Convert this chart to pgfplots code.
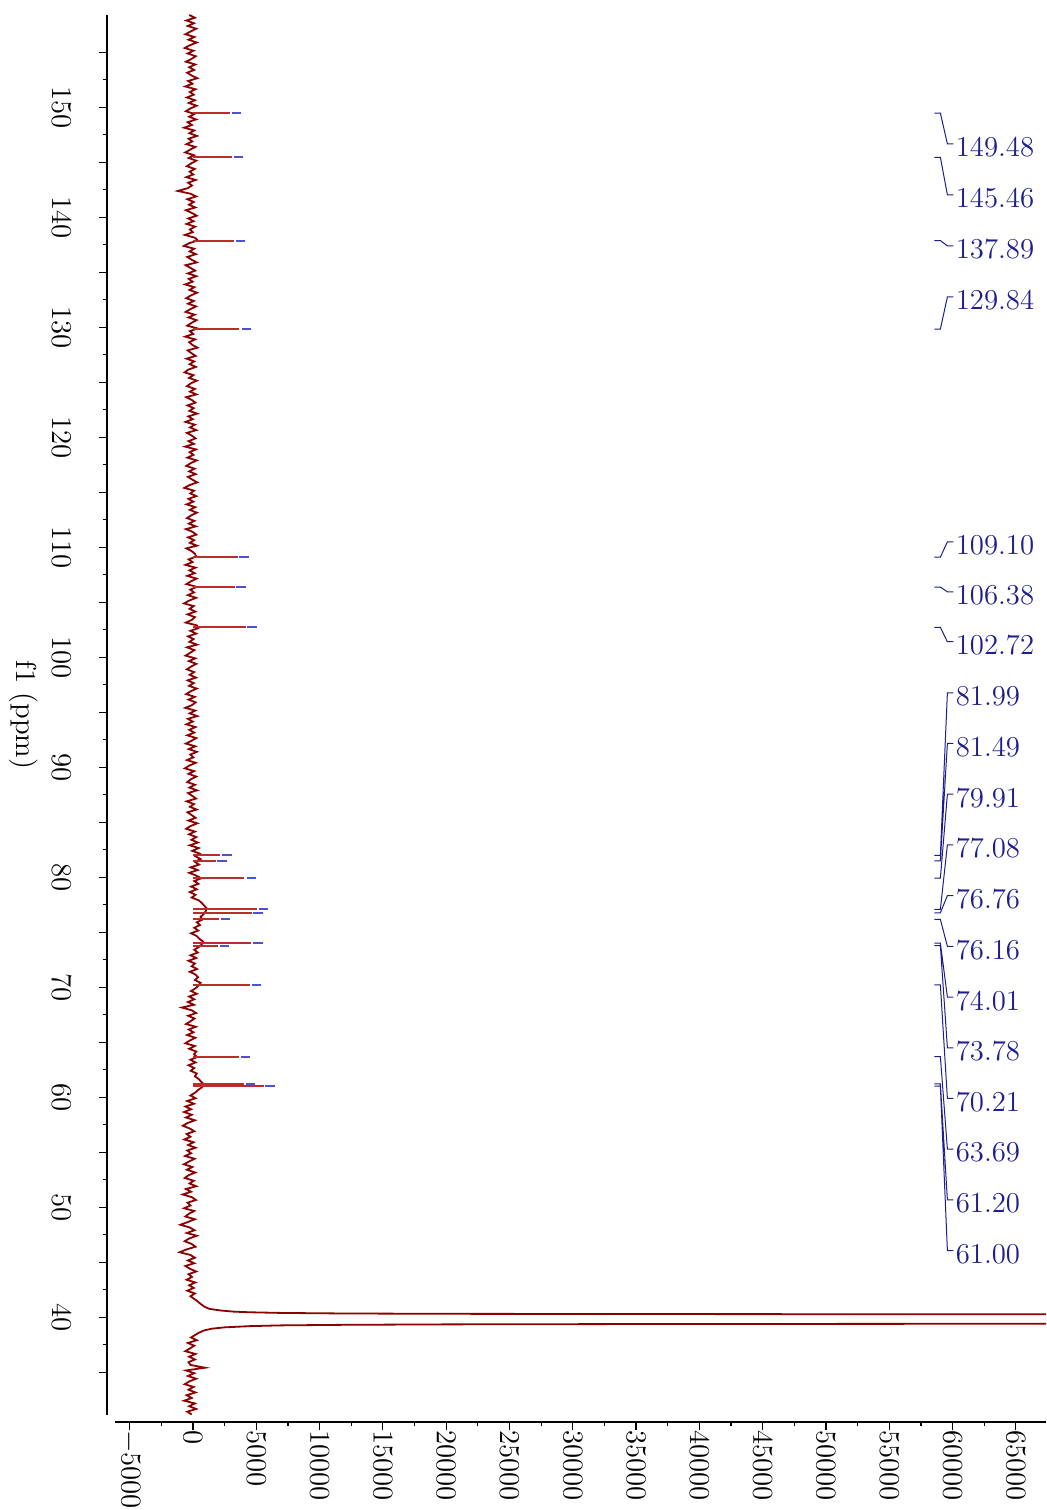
\documentclass[border=0pt]{standalone}
\usepackage{pgfplots}
\pgfplotsset{compat=1.18}
\usetikzlibrary{calc}
\definecolor{spec}{RGB}{139,0,0}
\definecolor{peakred}{RGB}{185,45,45}
\definecolor{dashblue}{RGB}{80,80,205}
\definecolor{labblue}{RGB}{30,30,140}
\begin{document}
\begin{tikzpicture}
\begin{axis}[
 name=ax, scale only axis, width=465.5pt, height=700pt,
 xmin=-6160, xmax=67380, ymin=31.1, ymax=158.4,
 axis lines=left, axis line style={-, line width=0.6pt},
 axis x line shift=3.5pt, axis y line shift=4pt,
 tick align=outside, major tick length=4pt, minor tick length=2pt,
 every tick/.style={black, line width=0.6pt},
 xtick={-5000,0,...,65000}, minor x tick num=1,
 ytick={35,40,...,155},
 yticklabels={{},40,{},50,{},60,{},70,{},80,{},90,{},100,{},110,{},120,{},130,{},140,{},150,{}},
 minor y tick num=1,
 scaled x ticks=false,
 /pgf/number format/1000 sep={},
 xticklabel style={rotate=-90, anchor=west, font=\Large},
 yticklabel style={rotate=-90, anchor=north, font=\Large},
 xticklabel shift=-3.5pt,
 yticklabel shift=10pt,
 ylabel={f1 (ppm)},
 every axis y label/.style={at={(ticklabel cs:0.5)}, rotate=-90, anchor=north, font=\Large},
 unbounded coords=jump,
]
% spectrum trace
\addplot[spec, line width=0.9pt] coordinates {
(-300,158.40) (150,158.15) (-520,157.90) (80,157.65) (-410,157.40) (260,157.15) (-180,156.90) (-600,156.65) (110,156.40) (-350,156.15)
(300,155.90) (-240,155.65) (-650,155.40) (40,155.15) (-420,154.90) (220,154.65) (-130,154.40) (-550,154.15) (180,153.90) (-300,153.65)
(90,153.40) (-460,153.15) (-120,152.90) (340,152.65) (-380,152.40) (-40,152.15) (-610,151.90) (200,151.65) (-250,151.40) (60,151.15)
(-480,150.90) (150,150.65) (-330,150.40) (280,150.15) (-200,149.90) (-560,149.65) (120,149.40) (-300,149.15) (240,148.90) (-420,148.65)
(-90,148.40) (-700,148.15) (100,147.90) (-280,147.65) (310,147.40) (-350,147.15) (-60,146.90) (-520,146.65) (190,146.40) (-230,146.15)
(-610,145.90) (80,145.65) (-340,145.40) (260,145.15) (-150,144.90) (-480,144.65) (140,144.40) (-260,144.15) (20,143.90) (-530,143.65)
(210,143.40) (-380,143.15) (-80,142.90) (-420,142.65) (-1200,142.40) (-200,142.15) (250,141.90) (-450,141.65) (60,141.40) (-310,141.15)
(180,140.90) (-560,140.65) (-90,140.40) (290,140.15) (-370,139.90) (40,139.65) (-500,139.40) (160,139.15) (-240,138.90) (-20,138.65)
(-640,138.40) (150,138.15) (380,137.90) (-300,137.65) (-720,137.40) (90,137.15) (-260,136.90) (230,136.65) (-450,136.40) (-110,136.15)
(300,135.90) (-580,135.65) (-190,135.40) (170,135.15) (-400,134.90) (260,134.65) (-330,134.40) (-30,134.15) (-620,133.90) (110,133.65)
(-280,133.40) (320,133.15) (-160,132.90) (-530,132.65) (60,132.40) (-390,132.15) (240,131.90) (-210,131.65) (-580,131.40) (130,131.15)
(-350,130.90) (280,130.65) (-120,130.40) (-460,130.15) (350,129.90) (-240,129.65) (20,129.40) (-610,129.15) (170,128.90) (-300,128.65)
(-50,128.40) (360,128.15) (-420,127.90) (-130,127.65) (210,127.40) (-500,127.15) (90,126.90) (-260,126.65) (230,126.40) (-380,126.15)
(-660,125.90) (40,125.65) (-310,125.40) (300,125.15) (-180,124.90) (-470,124.65) (150,124.40) (-240,124.15) (270,123.90) (-540,123.65)
(-100,123.40) (190,123.15) (-430,122.90) (60,122.65) (-280,122.40) (330,122.15) (-370,121.90) (-20,121.65) (-590,121.40) (140,121.15)
(-230,120.90) (260,120.65) (-480,120.40) (-90,120.15) (200,119.90) (-350,119.65) (70,119.40) (-620,119.15) (230,118.90) (-260,118.65)
(40,118.40) (-440,118.15) (290,117.90) (-170,117.65) (-530,117.40) (120,117.15) (-300,116.90) (210,116.65) (-400,116.40) (-60,116.15)
(340,115.90) (-290,115.65) (-680,115.40) (80,115.15) (-210,114.90) (250,114.65) (-360,114.40) (30,114.15) (-500,113.90) (180,113.65)
(-250,113.40) (300,113.15) (-140,112.90) (-470,112.65) (110,112.40) (-330,112.15) (220,111.90) (-560,111.65) (-30,111.40) (260,111.15)
(-390,110.90) (90,110.65) (-250,110.40) (310,110.15) (-520,109.90) (-100,109.65) (160,109.40) (250,109.15) (-340,108.90) (-40,108.65)
(-600,108.40) (200,108.15) (-280,107.90) (130,107.65) (-450,107.40) (280,107.15) (-160,106.90) (-520,106.65) (300,106.40) (-220,106.15)
(80,105.90) (-400,105.65) (240,105.40) (-310,105.15) (-700,104.90) (60,104.65) (-270,104.40) (190,104.15) (-430,103.90) (150,103.65)
(-90,103.40) (-560,103.15) (310,102.90) (420,102.65) (-200,102.40) (250,102.15) (-380,101.90) (40,101.65) (-280,101.40) (320,101.15)
(-470,100.90) (110,100.65) (-230,100.40) (-590,100.15) (180,99.90) (-320,99.65) (260,99.40) (-150,99.15) (-480,98.90) (90,98.65)
(-260,98.40) (230,98.15) (-420,97.90) (60,97.65) (-310,97.40) (290,97.15) (-190,96.90) (-540,96.65) (140,96.40) (-350,96.15)
(210,95.90) (-80,95.65) (-610,95.40) (170,95.15) (-260,94.90) (330,94.65) (-400,94.40) (-20,94.15) (-520,93.90) (200,93.65)
(-290,93.40) (100,93.15) (-440,92.90) (260,92.65) (-130,92.40) (-560,92.15) (180,91.90) (-330,91.65) (300,91.40) (-210,91.15)
(30,90.90) (-470,90.65) (220,90.40) (-290,90.15) (-640,89.90) (90,89.65) (-350,89.40) (250,89.15) (-170,88.90) (-450,88.65)
(160,88.40) (-280,88.15) (320,87.90) (-390,87.65) (-60,87.40) (240,87.15) (-500,86.90) (80,86.65) (-240,86.40) (290,86.15)
(-430,85.90) (-110,85.65) (210,85.40) (-360,85.15) (340,84.90) (-200,84.65) (-540,84.40) (150,84.15) (-310,83.90) (260,83.65)
(-120,83.40) (380,83.15) (-250,82.90) (450,82.65) (-60,82.40) (520,82.15) (200,81.90) (600,81.65) (150,81.40) (480,81.15)
(-180,80.90) (360,80.65) (-300,80.40) (250,80.15) (650,79.90) (100,79.65) (430,79.40) (-150,79.15) (300,78.90) (-250,78.65)
(200,78.40) (-100,78.15) (450,77.90) (700,77.65) (900,77.40) (1100,77.15) (1000,76.90) (850,76.65) (600,76.40) (750,76.15)
(300,75.90) (550,75.65) (100,75.40) (420,75.15) (-150,74.90) (300,74.65) (500,74.40) (800,74.15) (700,73.90) (450,73.65)
(100,73.40) (380,73.15) (-200,72.90) (250,72.65) (-350,72.40) (150,72.15) (-100,71.90) (320,71.65) (-250,71.40) (200,71.15)
(400,70.90) (150,70.65) (600,70.40) (450,70.15) (200,69.90) (-150,69.65) (300,69.40) (-300,69.15) (100,68.90) (-400,68.65)
(80,68.40) (-870,68.15) (-100,67.90) (250,67.65) (-380,67.40) (120,67.15) (-200,66.90) (-550,66.65) (220,66.40) (-330,66.15)
(40,65.90) (-460,65.65) (180,65.40) (-250,65.15) (-600,64.90) (150,64.65) (-300,64.40) (260,64.15) (80,63.90) (330,63.65)
(-200,63.40) (200,63.15) (-350,62.90) (100,62.65) (-180,62.40) (300,62.15) (150,61.90) (450,61.65) (650,61.40) (900,61.15)
(700,60.90) (400,60.65) (150,60.40) (-200,60.15) (200,59.90) (-450,59.65) (80,59.40) (-600,59.15) (-150,58.90) (-700,58.65)
(-100,58.40) (-550,58.15) (150,57.90) (-420,57.65) (-800,57.40) (-250,57.15) (100,56.90) (-500,56.65) (-200,56.40) (-680,56.15)
(50,55.90) (-380,55.65) (200,55.40) (-450,55.15) (-150,54.90) (-620,54.65) (120,54.40) (-300,54.15) (-720,53.90) (-50,53.65)
(-480,53.40) (180,53.15) (-350,52.90) (-650,52.65) (60,52.40) (-270,52.15) (250,51.90) (-560,51.65) (-150,51.40) (-800,51.15)
(-80,50.90) (230,50.65) (-430,50.40) (-200,50.15) (-700,49.90) (100,49.65) (-320,49.40) (-600,49.15) (150,48.90) (-400,48.65)
(-1000,48.40) (-250,48.15) (120,47.90) (-480,47.65) (300,47.40) (-300,47.15) (-650,46.90) (-100,46.65) (200,46.40) (-520,46.15)
(-1050,45.90) (-200,45.65) (150,45.40) (-400,45.15) (100,44.90) (-600,44.65) (-250,44.40) (250,44.15) (-350,43.90) (-80,43.65)
(-500,43.40) (180,43.15) (-300,42.90) (60,42.65) (-450,42.40) (150,42.15) (-200,41.90) (100,41.65)
(300,41.50) (450,41.35) (600,41.20) (900,40.95) (1300,40.75) (2200,40.60) (3200,40.50) (4500,40.44) (7000,40.38) (12000,40.33)
(20000,40.30) (35000,40.28) (70000,40.25) (400000,40.10) (400000,39.60) (70000,39.40) (35000,39.37) (20000,39.34) (12000,39.30)
(7000,39.25) (4500,39.18) (2500,39.07) (1500,38.95) (900,38.80) (500,38.60) (200,38.40)
(-150,38.15) (300,37.90) (-400,37.65) (100,37.40) (-250,37.15) (-600,36.90) (200,36.65) (-300,36.40) (150,36.15) (-350,35.90)
(-200,35.65) (950,35.40) (-550,35.15) (100,34.90) (-400,34.65) (250,34.40) (-300,34.15) (-650,33.90) (50,33.65) (-350,33.40)
(200,33.15) (-500,32.90) (-100,32.65) (-700,32.40) (150,32.15) (-300,31.90) (250,31.65) (-450,31.40) (-100,31.15)
};
% peak lines
\addplot[peakred, line width=1pt] coordinates {
(0,149.48) (2920,149.48) (nan,nan) (0,145.46) (3080,145.46) (nan,nan)
(0,137.89) (3240,137.89) (nan,nan) (0,129.84) (3630,129.84) (nan,nan)
(0,109.10) (3560,109.10) (nan,nan) (0,106.38) (3320,106.38) (nan,nan)
(0,102.72) (4190,102.72) (nan,nan) (0,81.99) (2130,81.99) (nan,nan)
(0,81.49) (1820,81.49) (nan,nan) (0,79.91) (4030,79.91) (nan,nan)
(0,77.08) (5060,77.08) (nan,nan) (0,76.76) (4660,76.76) (nan,nan)
(0,76.16) (2050,76.16) (nan,nan) (0,74.01) (4580,74.01) (nan,nan)
(0,73.78) (1980,73.78) (nan,nan) (0,70.21) (4500,70.21) (nan,nan)
(0,63.69) (3630,63.69) (nan,nan) (0,61.20) (4030,61.20) (nan,nan)
(0,61.00) (5610,61.00)
};
% peak-pick dashes
\addplot[dashblue, line width=1pt] coordinates {
(3080,149.48) (3790,149.48) (nan,nan) (3240,145.46) (3950,145.46) (nan,nan)
(3400,137.89) (4110,137.89) (nan,nan) (3870,129.84) (4580,129.84) (nan,nan)
(3630,109.10) (4420,109.10) (nan,nan) (3400,106.38) (4190,106.38) (nan,nan)
(4270,102.72) (5060,102.72) (nan,nan) (2290,81.99) (3080,81.99) (nan,nan)
(1900,81.49) (2690,81.49) (nan,nan) (4270,79.91) (4980,79.91) (nan,nan)
(5210,77.08) (5930,77.08) (nan,nan) (4740,76.76) (5530,76.76) (nan,nan)
(2210,76.16) (2920,76.16) (nan,nan) (4740,74.01) (5530,74.01) (nan,nan)
(2130,73.78) (2840,73.78) (nan,nan) (4660,70.21) (5370,70.21) (nan,nan)
(3790,63.69) (4500,63.69) (nan,nan) (4190,61.20) (4900,61.20) (nan,nan)
(5690,61.00) (6480,61.00)
};
% label connectors
\addplot[labblue, line width=0.5pt] coordinates {
(58560,149.48) (59035,149.48) (59590,146.68) (60060,146.68) (nan,nan)
(58560,145.46) (59035,145.46) (59590,142.05) (60060,142.05) (nan,nan)
(58560,137.89) (59035,137.89) (59590,137.41) (60060,137.41) (nan,nan)
(58560,129.84) (59035,129.84) (59590,132.77) (60060,132.77) (nan,nan)
(58560,109.10) (59035,109.10) (59590,110.50) (60060,110.50) (nan,nan)
(58560,106.38) (59035,106.38) (59590,105.95) (60060,105.95) (nan,nan)
(58560,102.72) (59035,102.72) (59590,101.41) (60060,101.41) (nan,nan)
(58560,81.99) (59035,81.99) (59590,96.77) (60060,96.77) (nan,nan)
(58560,81.49) (59035,81.49) (59590,92.16) (60060,92.16) (nan,nan)
(58560,79.91) (59035,79.91) (59590,87.55) (60060,87.55) (nan,nan)
(58560,77.08) (59035,77.08) (59590,82.94) (60060,82.94) (nan,nan)
(58560,76.76) (59035,76.76) (59590,78.33) (60060,78.33) (nan,nan)
(58560,76.16) (59035,76.16) (59590,73.71) (60060,73.71) (nan,nan)
(58560,74.01) (59035,74.01) (59590,69.10) (60060,69.10) (nan,nan)
(58560,73.78) (59035,73.78) (59590,64.49) (60060,64.49) (nan,nan)
(58560,70.21) (59035,70.21) (59590,59.88) (60060,59.88) (nan,nan)
(58560,63.69) (59035,63.69) (59590,55.27) (60060,55.27) (nan,nan)
(58560,61.20) (59035,61.20) (59590,50.66) (60060,50.66) (nan,nan)
(58560,61.00) (59035,61.00) (59590,46.05) (60060,46.05)
};
\begin{scope}[every node/.style={anchor=west, inner sep=0pt, text=labblue, font=\Large}]
\node at (axis cs:60220,146.36) {149.48};
\node at (axis cs:60220,141.73) {145.46};
\node at (axis cs:60220,137.09) {137.89};
\node at (axis cs:60220,132.45) {129.84};
\node at (axis cs:60220,110.18) {109.10};
\node at (axis cs:60220,105.64) {106.38};
\node at (axis cs:60220,101.09) {102.72};
\node at (axis cs:60220,96.45) {81.99};
\node at (axis cs:60220,91.84) {81.49};
\node at (axis cs:60220,87.23) {79.91};
\node at (axis cs:60220,82.62) {77.08};
\node at (axis cs:60220,78.01) {76.76};
\node at (axis cs:60220,73.39) {76.16};
\node at (axis cs:60220,68.78) {74.01};
\node at (axis cs:60220,64.17) {73.78};
\node at (axis cs:60220,59.56) {70.21};
\node at (axis cs:60220,54.95) {63.69};
\node at (axis cs:60220,50.34) {61.20};
\node at (axis cs:60220,45.73) {61.00};
\end{scope}
\end{axis}
\pgfresetboundingbox
\path ($(ax.south west)+(-57.5pt,-47.5pt)$) rectangle ($(ax.north east)+(0pt,7.5pt)$);
\end{tikzpicture}
\end{document}
